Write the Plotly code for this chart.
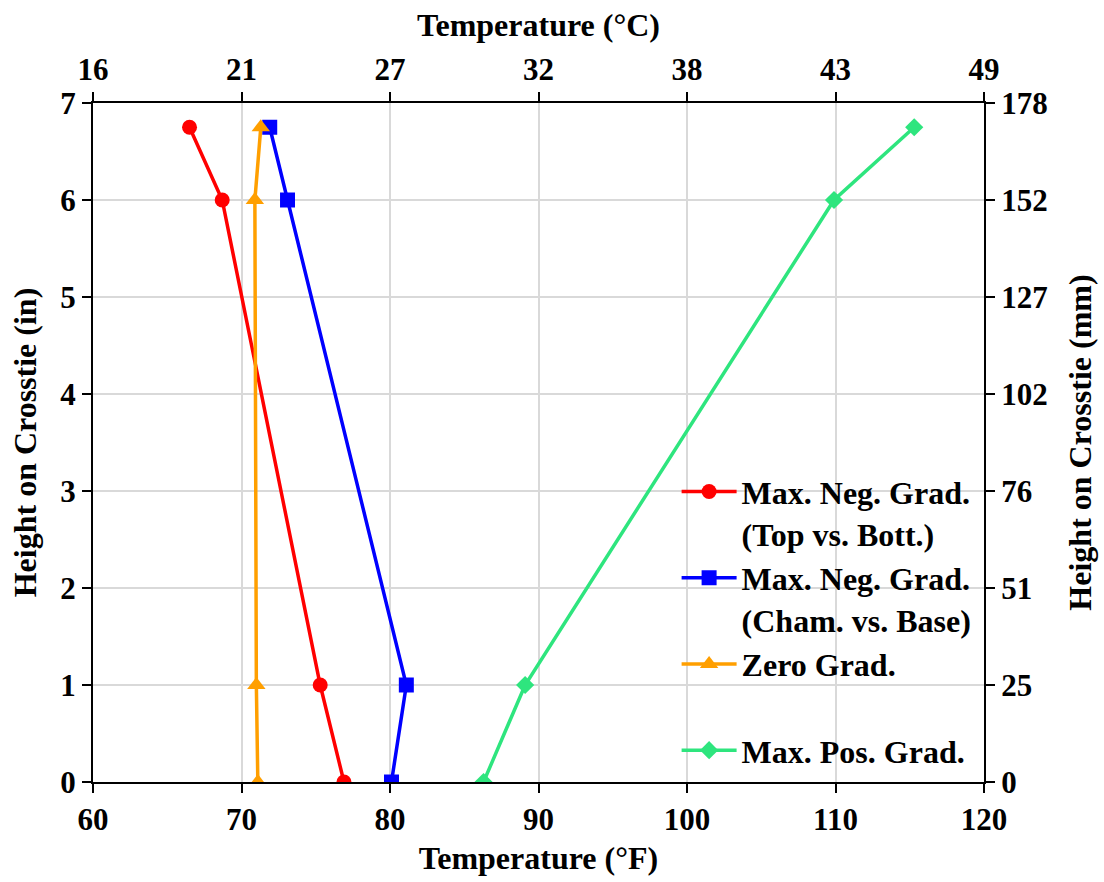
import plotly.graph_objects as go

height_in = [6.75, 6, 1, 0]
temp_top_bott = [66.5, 68.7, 75.3, 76.9]
temp_cham_base = [71.9, 73.1, 81.1, 80.1]
temp_zero = [71.3, 70.9, 71.0, 71.1]
temp_pos = [115.3, 109.9, 89.1, 86.3]

f_ticks = [60, 70, 80, 90, 100, 110, 120]
c_labels = ["16", "21", "27", "32", "38", "43", "49"]
in_ticks = [0, 1, 2, 3, 4, 5, 6, 7]
mm_labels = ["0", "25", "51", "76", "102", "127", "152", "178"]

FONT = "Liberation Serif"
fs_tick = 31
fs_title = 32

def bfont(size):
    return dict(family=FONT, size=size, color="black", weight="bold")

fig = go.Figure()
series = [
    ("Max. Neg. Grad.<br>(Top vs. Bott.)", temp_top_bott, "#FF0000", "circle", 15),
    ("Max. Neg. Grad.<br>(Cham. vs. Base)", temp_cham_base, "#0000FF", "square", 15),
    ("Zero Grad.<br> ", temp_zero, "#FF9F00", "triangle-up", 16),
    ("Max. Pos. Grad.", temp_pos, "#2EE57E", "diamond", 14),
]
for name, xs, col, sym, ms in series:
    fig.add_trace(go.Scatter(
        x=xs, y=height_in, name=name, mode="lines+markers",
        line=dict(color=col, width=3.5),
        marker=dict(symbol=sym, size=ms, color=col),
    ))

# invisible trace for the secondary axes
fig.add_trace(go.Scatter(x=[f_ticks[0]], y=[in_ticks[0]], xaxis="x2", yaxis="y2",
                         mode="markers", marker=dict(opacity=0), showlegend=False,
                         hoverinfo="skip"))

axis_common = dict(
    showline=True, linecolor="black", linewidth=2,
    ticks="outside", ticklen=9, tickwidth=1.5, tickcolor="black",
    tickfont=bfont(fs_tick),
    zeroline=False,
)

fig.update_layout(
    width=1104, height=882,
    margin=dict(l=93, r=117, t=103, b=100),
    paper_bgcolor="white", plot_bgcolor="white",
    font=bfont(fs_tick),
    xaxis=dict(range=[60, 120], tickvals=f_ticks, showgrid=True, gridcolor="#D9D9D9", gridwidth=2,
               title=dict(text="Temperature (°F)", font=bfont(fs_title), standoff=10),
               **axis_common),
    yaxis=dict(range=[0, 7], tickvals=in_ticks, showgrid=True, gridcolor="#D9D9D9", gridwidth=2,
               title=dict(text="Height on Crosstie (in)", font=bfont(fs_title), standoff=14),
               **axis_common),
    xaxis2=dict(range=[60, 120], tickvals=f_ticks, ticktext=c_labels,
                overlaying="x", side="top", showgrid=False,
                title=dict(text="Temperature (°C)", font=bfont(fs_title), standoff=5),
                **axis_common),
    yaxis2=dict(range=[0, 7], tickvals=in_ticks, ticktext=mm_labels,
                overlaying="y", side="right", showgrid=False,
                title=dict(text="Height on Crosstie (mm)", font=bfont(fs_title), standoff=22),
                **axis_common),
    legend=dict(x=0.655, y=0.468, xanchor="left", yanchor="top",
                bgcolor="rgba(0,0,0,0)", valign="top",
                font=bfont(fs_title),
                tracegroupgap=0, itemwidth=55),
    showlegend=True,
)

fig.write_html("out.html")
